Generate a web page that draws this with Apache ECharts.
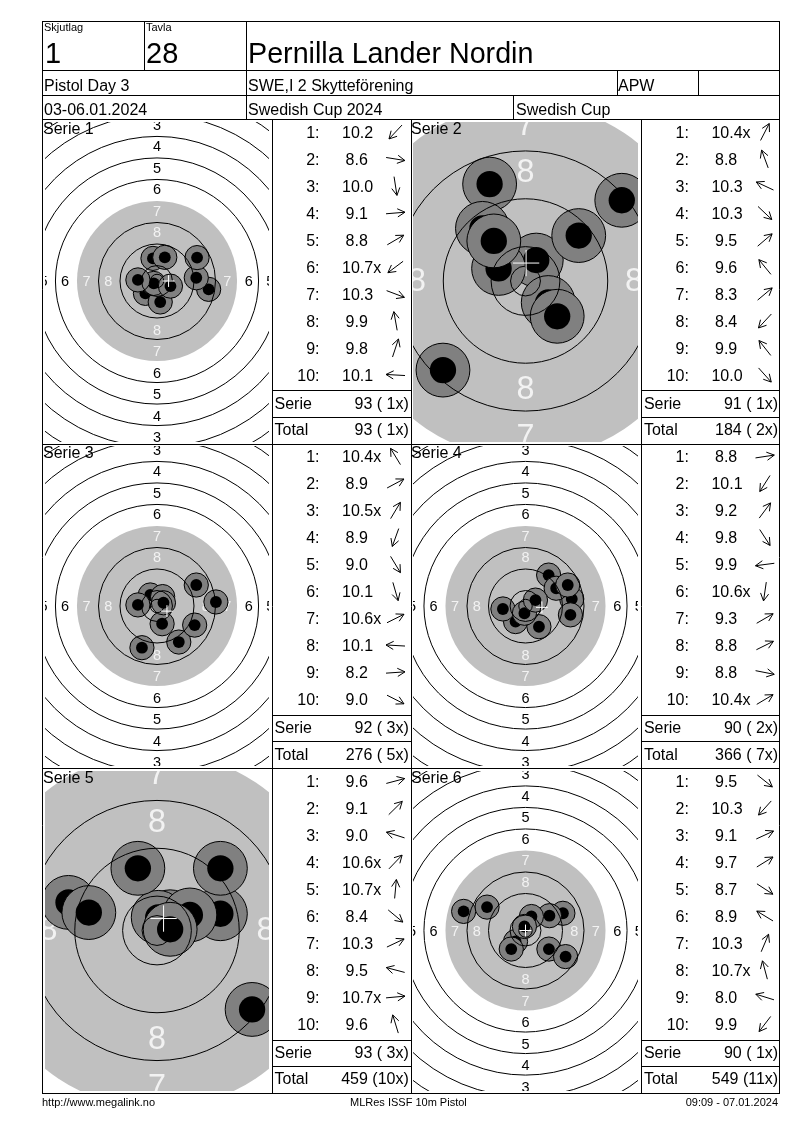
<!DOCTYPE html>
<html><head><meta charset="utf-8">
<style>html,body{margin:0;padding:0;background:#fff}#c{width:800px;height:1130px}</style>
<script src="https://cdn.jsdelivr.net/npm/echarts@6/dist/echarts.min.js"></script>
</head><body><div id="c"></div>
<script>
// ---- data (shot positions in mm from the target centre, y up)
const serie1Scores = ['10.2','8.6','10.0','9.1','8.8','10.7x','10.3','9.9','9.8','10.1'];
const serie1X = [-4.3,19.2,1.2,14.6,14.9,-1.2,5.0,-1.5,2.9,-7.1];
const serie1Y = [-4.6,-3.1,-7.8,1.2,8.7,-0.9,-1.9,8.4,8.8,0.4];
const serie2Scores = ['10.4x','8.8','10.3','10.3','9.5','9.6','8.3','8.4','9.9','10.0'];
const serie2X = [1.8,-6.0,-4.5,3.8,8.9,-7.2,16.1,-13.8,-5.3,5.3];
const serie2Y = [3.5,16.2,2.1,-3.6,7.6,8.8,13.5,-14.9,6.7,-5.9];
const serie3Scores = ['10.4x','8.9','10.5x','8.9','9.0','10.1','10.6x','10.1','8.2','9.0'];
const serie3X = [-2.5,14.6,2.1,-5.6,8.1,1.9,2.4,-7.1,21.9,14.0];
const serie3Y = [4.1,7.8,3.5,-15.5,-13.4,-6.6,1.2,0.4,1.5,-7.1];
const serie4Scores = ['8.8','10.1','9.2','9.8','9.9','10.6x','9.3','8.8','8.8','10.4x'];
const serie4X = [17.2,-3.7,8.6,5.0,-8.4,-0.4,11.4,15.7,16.7,3.7];
const serie4Y = [2.6,-5.8,11.5,-7.7,-1.1,-2.7,6.6,7.8,-3.3,2.2];
const serie5Scores = ['9.6','9.1','9.0','10.6x','10.7x','8.4','10.3','9.5','10.7x','9.6'];
const serie5X = [10.6,10.6,-14.8,2.2,0.2,15.9,5.5,-11.4,2.2,-3.2];
const serie5Y = [2.8,10.4,4.7,2.3,2.2,-13.2,2.6,3.0,0.2,10.4];
const serie6Scores = ['9.5','10.3','9.1','9.7','8.7','8.9','10.3','10.7x','8.0','9.9'];
const serie6X = [8.7,-3.7,13.9,8.9,14.9,-14.3,2.2,-0.4,-23.0,-5.3];
const serie6Y = [-6.9,-4.1,6.4,5.5,-9.7,8.7,5.2,1.5,7.1,-6.9];
const meanX = [4.3,0.1,3.7,6.1,1.1,0.0];
const meanY = [0.0,3.0,-1.9,-0.5,2.0,0.0];
const serieNames = ['Serie 1','Serie 2','Serie 3','Serie 4','Serie 5','Serie 6'];
const serieTotals = ['93 ( 1x)','91 ( 1x)','92 ( 3x)','90 ( 2x)','93 ( 3x)','90 ( 1x)'];
const runningTotals = ['93 ( 1x)','184 ( 2x)','276 ( 5x)','366 ( 7x)','459 (10x)','549 (11x)'];
const ringNumbers = [1,2,3,4,5,6,7,8];
const pixelsPerMm = [2.69,5.98,2.69,2.69,5.98,2.69];
const header = {lane:'1',target:'28',name:'Pernilla Lander Nordin',event:'Pistol Day 3',club:'SWE,I 2 Skytteförening',klass:'APW',date:'03-06.01.2024',match:'Swedish Cup 2024',matchShort:'Swedish Cup'};
const footer = ['http://www.megalink.no','MLRes ISSF 10m Pistol','09:09 - 07.01.2024'];

// ---- layout
const allScores=[serie1Scores,serie2Scores,serie3Scores,serie4Scores,serie5Scores,serie6Scores];
const allX=[serie1X,serie2X,serie3X,serie4X,serie5X,serie6X];
const allY=[serie1Y,serie2Y,serie3Y,serie4Y,serie5Y,serie6Y];
const ringR = n => 5.75+8*(10-n);
const colX=[157,525.5], rowTop=[122,446,771], rowC=[281,606,930.5];
const serieLineY=[390,715,1040], totalLineY=[417,741,1066];
const plotW=224, plotH=320;
const grids=[],xAxes=[],yAxes=[],series=[],graphics=[];
const FONT='Liberation Sans, Arial, sans-serif';

function clipGroup(children){return {type:'group',children};}
serieNames.forEach((name,i)=>{
  const col=i%2,row=Math.floor(i/2),s=pixelsPerMm[i];
  const cx=colX[col],cy=rowC[row],top=rowTop[row];
  grids.push({left:cx-plotW/2,top:top,width:plotW,height:plotH,containLabel:false});
  xAxes.push({type:'value',gridIndex:i,min:-plotW/2/s,max:plotW/2/s,show:false});
  yAxes.push({type:'value',gridIndex:i,min:-(top+plotH-cy)/s,max:(cy-top)/s,show:false});
  const base={type:'custom',xAxisIndex:i,yAxisIndex:i,clip:true,silent:true,animation:false,coordinateSystem:'cartesian2d'};
  const px=(api,v)=>api.size([v,0])[0];
  series.push({...base,name:name+' disc',z:1,data:[[0,0,ringR(7)]],encode:{x:0,y:1},renderItem:(p,api)=>{
    const c=api.coord([0,0]);
    return {type:'circle',shape:{cx:c[0],cy:c[1],r:px(api,api.value(2))},style:{fill:'#c0c0c0',stroke:null}};
  }});
  const labelData=[];
  ringNumbers.forEach(n=>{[[0,1],[0,-1],[1,0],[-1,0]].forEach(d=>{
    const r=ringR(n)-3.6; labelData.push([d[0]*r,d[1]*r,n]);
  });});
  series.push({...base,name:name+' labels',z:2,data:labelData,encode:{x:0,y:1},renderItem:(p,api)=>{
    const c=api.coord([api.value(0),api.value(1)]),n=api.value(2);
    return {type:'text',style:{x:c[0],y:c[1]+1,text:String(n),textAlign:'center',textVerticalAlign:'middle',
      font:(5.4*s).toFixed(1)+'px '+FONT,fill:n>=7?'#f2f2f2':'#000'}};
  }});
  const shots=allX[i].map((x,k)=>[x,allY[i][k]]);
  series.push({...base,name:name+' shots',z:3,data:shots,encode:{x:0,y:1},renderItem:(p,api)=>{
    const c=api.coord([api.value(0),api.value(1)]);
    return clipGroup([
      {type:'circle',shape:{cx:c[0],cy:c[1],r:px(api,4.5)},style:{fill:'#808080',stroke:'#000',lineWidth:1}},
      {type:'circle',shape:{cx:c[0],cy:c[1],r:px(api,2.2)},style:{fill:'#000',stroke:null}}
    ]);
  }});
  const rings=[2.5,5.75,ringR(9),ringR(8),ringR(6),ringR(5),ringR(4),ringR(3),ringR(2),ringR(1)].map(r=>[0,0,r]);
  series.push({...base,name:name+' rings',z:4,data:rings,encode:{x:0,y:1},renderItem:(p,api)=>{
    const c=api.coord([0,0]);
    return {type:'circle',shape:{cx:c[0],cy:c[1],r:px(api,api.value(2))},style:{fill:null,stroke:'#000',lineWidth:1}};
  }});
  series.push({...base,name:name+' mean',z:5,data:[[meanX[i],meanY[i]]],encode:{x:0,y:1},renderItem:(p,api)=>{
    const c=api.coord([api.value(0),api.value(1)]),h=px(api,2.2);
    const st={stroke:'#fff',lineWidth:1,fill:null};
    return clipGroup([
      {type:'line',shape:{x1:c[0]-h,y1:c[1],x2:c[0]+h,y2:c[1]},style:st},
      {type:'line',shape:{x1:c[0],y1:c[1]-h,x2:c[0],y2:c[1]+h},style:st}
    ]);
  }});
});

function hl(y,x1,x2){graphics.push({type:'line',z:50,silent:true,shape:{x1,y1:y+.5,x2:x2+1,y2:y+.5},style:{stroke:'#000',lineWidth:1}});}
function vl(x,y1,y2){graphics.push({type:'line',z:50,silent:true,shape:{x1:x+.5,y1,x2:x+.5,y2:y2+1},style:{stroke:'#000',lineWidth:1}});}
function tx(text,x,y,size,align){graphics.push({type:'text',z:60,silent:true,style:{x,y:y+2.5,text,textAlign:align||'left',textVerticalAlign:'middle',font:size+'px '+FONT,fill:'#000'}});}
const L=42,R=779,T=21,B=1093;
hl(T,L,R);hl(70,L,R);hl(95,L,R);hl(119,L,R);hl(444,L,R);hl(768,L,R);hl(B,L,R);
vl(L,T,B);vl(R,T,B);vl(144,T,70);vl(246,T,119);vl(617,70,95);vl(698,70,95);vl(513,95,119);
vl(272,119,B);vl(411,119,B);vl(641,119,B);
tx('Skjutlag',44,25.5,11);tx('Tavla',146,25.5,11);
tx(header.lane,45,52.5,29);tx(header.target,146,52.5,29);tx(header.name,248,52.5,28.7);
tx(header.event,44,84.5,16);tx(header.club,248,84.5,16);tx(header.klass,618,84.5,16);
tx(header.date,44,108.5,16);tx(header.match,248,108.5,16);tx(header.matchShort,516,108.5,16);
tx(footer[0],42,1100,11);tx(footer[1],350,1100,11);tx(footer[2],778,1100,11,'right');

const arrowStyle={stroke:'#000',lineWidth:1,fill:null};
serieNames.forEach((name,i)=>{
  const col=i%2,row=Math.floor(i/2);
  const off=col*369.4, dy=[0,324.5,649][row], tl=col?641:272, tr=col?R:411;
  tx(name,col?411:43,127+dy,16);
  allScores[i].forEach((v,k)=>{
    const y=131+27*k+dy;
    tx((k+1)+':',319.5+off,y,16,'right');
    tx(v,(v.replace('x','').length>3?342:345.6)+off,y,16);
    const a=Math.atan2(allY[i][k],allX[i][k]);
    const cx=395.5+off,ay=y+1,ux=Math.cos(a),uy=-Math.sin(a),half=9.5;
    const tipX=cx+ux*half,tipY=ay+uy*half,tailX=cx-ux*half,tailY=ay-uy*half;
    const w=(d)=>{const b=a+Math.PI+d;return [tipX+Math.cos(b)*8.5,tipY-Math.sin(b)*8.5];};
    const w1=w(.5),w2=w(-.5);
    graphics.push({type:'line',z:55,silent:true,shape:{x1:tailX,y1:tailY,x2:tipX,y2:tipY},style:arrowStyle});
    graphics.push({type:'polyline',z:55,silent:true,shape:{points:[w1,[tipX,tipY],w2]},style:arrowStyle});
  });
  hl(serieLineY[row],tl,tr); hl(totalLineY[row],tl,tr);
  tx('Serie',274.5+off,402+dy,16);tx('Total',274.5+off,428.5+dy,16);
  tx(serieTotals[i],408.8+off,402+dy,16,'right');tx(runningTotals[i],408.8+off,428.5+dy,16,'right');
});

const chart=echarts.init(document.getElementById('c'),null,{renderer:'canvas',width:800,height:1130});
chart.setOption({animation:false,backgroundColor:'#fff',grid:grids,xAxis:xAxes,yAxis:yAxes,series,graphic:{elements:graphics}});
</script></body></html>
